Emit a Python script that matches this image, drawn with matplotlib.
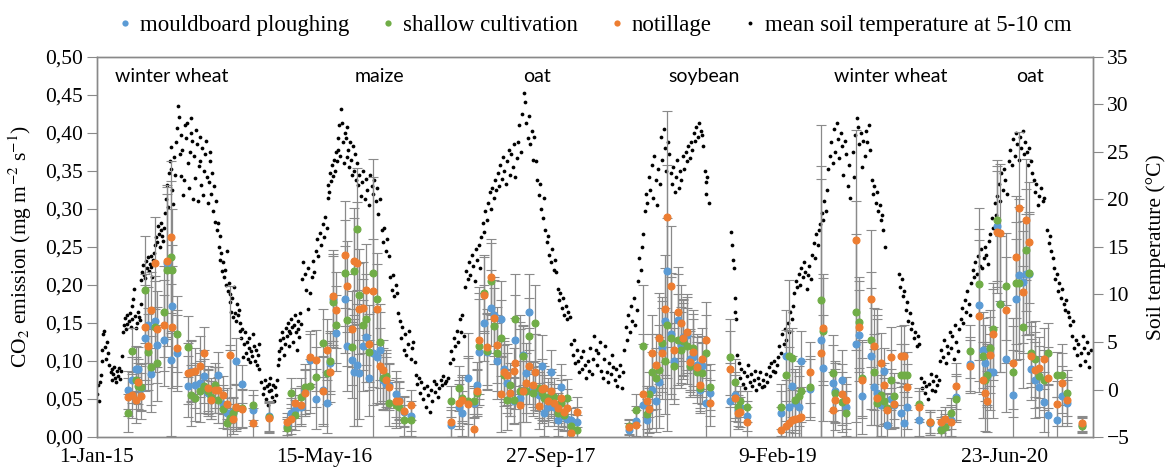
import matplotlib
matplotlib.use("Agg")
import matplotlib.pyplot as plt
from matplotlib.lines import Line2D
from matplotlib.ticker import FuncFormatter, MultipleLocator

plt.rcParams['font.family'] = ['Liberation Serif', 'DejaVu Serif']
plt.rcParams['mathtext.fontset'] = 'stix'

# x values are days since 1-Jan-2015
tick_days = [0, 500, 1000, 1500, 2000]
tick_labels = ['1-Jan-15', '15-May-16', '27-Sep-17', '9-Feb-19', '23-Jun-20']

crops = ['winter wheat', 'maize', 'oat', 'soybean', 'winter wheat', 'oat']

# mean soil temperature at 5-10 cm, (day, degC)
temp_2015 = [(0,-0.5),(2,0.5),(4,-1.2),(6,0.8),(8,1.5),(10,3.0),(12,4.2),(14,5.8),(16,6.2),(18,4.5),(20,3.2),(22,5.0),(25,3.8),(27,2.6),(30,1.8),(32,2.2),(34,1.0),(36,1.6),(38,2.4),(40,1.2),(42,0.8),(44,1.9),(46,1.4),(48,2.3),(50,1.1),(52,2.0),(55,3.5),(57,6.0),(59,6.8),(61,7.5),(63,6.4),(65,7.8),(67,6.9),(70,7.2),(72,8.0),(74,6.6),(76,7.4),(78,8.8),(80,9.5),(82,10.6),(84,7.7),(86,6.5),(88,7.0),(90,8.2),(92,7.6),(94,7.3),(96,9.0),(98,11.5),(100,12.4),(102,13.1),(104,12.0),(106,11.7),(108,13.5),(110,12.8),(112,13.9),(114,12.5),(116,13.2),(118,14.0),(120,12.9),(122,11.8),(124,13.6),(126,14.4),(128,15.2),(130,16.0),(132,15.5),(134,17.2),(136,16.4),(138,15.0),(140,16.8),(142,17.5),(144,16.2),(146,15.6),(148,17.0),(150,18.6),(152,20.0),(154,21.5),(156,19.2),(158,22.8),(160,24.0),(162,23.2),(164,25.5),(166,21.0),(168,19.5),(170,24.5),(172,22.6),(174,26.0),(176,27.5),(178,29.8),(180,28.7),(182,24.8),(184,22.5),(186,26.8),(188,25.2),(190,20.5),(192,22.0),(194,27.8),(196,26.5),(198,28.0),(200,23.8),(202,21.2),(204,25.0),(206,27.0),(208,28.6),(210,26.2),(212,20.0),(214,24.6),(216,22.3),(218,27.3),(220,25.8),(222,19.8),(224,23.5),(226,26.6),(228,24.0),(230,21.5),(232,25.4),(234,20.5),
             (236,23.0),(238,24.8),(240,26.2),(242,22.4),(244,19.6),(246,21.8),(248,25.0),(250,24.0),(252,20.6),(254,22.8),(256,18.8),(258,21.4),(260,17.6),(262,19.8),(264,16.8),(266,17.5),(268,15.0),(270,16.2),(272,13.6),(274,14.4),(276,12.5),(278,13.4),(280,11.8),(282,12.6),(284,11.0),(286,14.6),(288,10.4),(290,11.2),(292,9.2),(294,10.0),(296,8.2),(298,9.6),(300,7.6),(302,10.8),(304,8.0),(306,7.2),(308,9.0),(310,7.8),(312,8.4),(314,7.0),(316,6.2),(318,5.4),(320,6.4),(322,3.4),(324,4.8),(326,6.0),(328,3.8),(330,5.0),(332,3.2),(334,4.4),(336,5.4),(338,2.9),(340,4.1),(342,3.5),(344,5.8),(346,4.6),(348,3.0),(350,4.2),(352,2.6),(354,3.6),(356,4.8),(358,2.2)]
temp_2016 = [(362,0.8),(365,-0.5),(368,0.2),(370,1.0),(372,-1.0),(374,0.4),(376,-1.6),(378,0.6),(380,-0.2),(382,1.2),(384,0.0),(386,-0.8),(388,0.5),(390,-1.2),(392,0.3),(394,-0.6),(396,1.0),(398,2.6),(400,4.0),(402,3.2),(404,5.2),(406,4.4),(408,6.0),(410,5.4),(412,3.6),(414,4.8),(416,6.5),(418,5.6),(420,7.0),(422,6.2),(424,4.6),(426,5.9),(428,7.4),(430,6.6),(432,5.0),(434,6.8),(436,7.8),(438,6.0),(440,4.2),(442,7.2),(444,6.4),(446,5.5),(448,8.0),(450,6.9),(452,11.6),(455,13.4),(458,12.2),(461,10.5),(464,12.8),(466,8.5),(470,10.2),(473,11.8),(476,13.5),(479,12.4),(482,14.6),(485,15.8),(488,14.0),(491,16.5),(494,15.2),(497,17.4),(500,16.0),(503,18.2),(506,17.0),(508,20.2),(510,21.5),(512,20.8),(514,22.8),(516,21.9),(518,23.6),(520,22.5),(522,24.2),(524,23.0),(526,25.0),(528,24.0),(530,26.5),(532,25.2),(534,27.8),(536,24.6),(538,29.5),(540,28.0),(542,26.0),(544,23.8),(546,27.0),(548,26.5),(550,24.5),(552,27.6),(554,25.2),(556,23.4),(558,26.0),(560,24.2),(562,22.6),(564,25.6),(566,23.0),(568,24.8),(570,22.0),(572,23.8),(575,21.5),(578,22.6),(581,20.4),(584,21.8),(587,23.0),(590,20.0),(593,22.2),(596,21.0),(599,19.4),(602,22.6),(605,21.4),(608,20.6),(611,22.0),(614,19.8),(617,21.2),(620,18.5),(623,20.0),(627,16.8),(630,15.5),(633,17.0),(636,14.6),(640,15.8),(643,14.0),(646,11.8),(649,10.5),(652,12.0),(655,9.8),(658,11.0),(661,10.2),(664,8.0),(667,7.2),(670,5.4),(673,6.6),(676,4.2),(679,5.8),(682,3.6),(685,4.8),(688,6.2),(691,3.2),(694,4.4),(697,5.0),(700,2.9),(703,1.5),(706,0.6),(709,1.2),(712,-0.4),(715,0.8),(718,-1.0),(721,0.2),(724,-1.8),(727,0.4),(730,-0.6)]
temp_2017 = [(733,-2.4),(736,0.0),(739,-1.2),(742,0.9),(745,-0.3),(748,0.6),(751,-0.8),(754,0.2),(757,1.0),(760,0.5),(763,1.4),(766,0.7),(770,0.9),(774,1.2),(778,2.8),(781,4.0),(784,3.2),(787,5.4),(790,4.6),(793,6.2),(796,5.0),(799,7.4),(802,6.0),(805,7.8),(808,5.6),(811,10.8),(814,12.5),(817,11.6),(820,13.4),(823,12.0),(826,14.2),(829,13.0),(832,11.4),(835,14.8),(838,13.6),(841,15.2),(844,12.8),(847,16.0),(850,17.5),(853,16.6),(856,18.8),(859,17.8),(862,19.6),(865,20.8),(868,19.0),(871,21.2),(874,20.2),(877,22.0),(880,21.0),(883,22.8),(886,21.4),(889,23.6),(892,22.2),(895,24.5),(898,23.0),(901,21.6),(904,24.0),(907,25.2),(910,22.6),(913,24.8),(916,23.4),(919,25.8),(922,22.4),(925,24.4),(928,26.0),(931,27.8),(934,25.0),(937,29.0),(940,31.2),(943,30.2),(946,28.0),(949,26.5),(952,28.8),(955,25.8),(958,27.2),(961,24.2),(964,26.6),(967,24.0),(970,22.0),(973,20.5),(976,21.6),(979,19.0),(982,18.0),(985,20.2),(988,16.8),(991,15.5),(994,16.2),(997,14.2),(1000,13.4),(1003,14.8),(1006,12.6),(1009,13.6),(1012,12.4),(1015,10.6),(1018,9.4),(1021,10.2),(1024,8.6),(1027,9.6),(1030,7.8),(1033,8.8),(1036,7.4),(1039,8.2),(1042,7.6),(1045,4.8),(1048,3.6),(1051,5.2),(1054,2.8),(1057,4.2),(1060,3.0),(1063,1.8),(1066,3.4),(1069,2.2),(1072,4.0),(1075,2.6),(1078,1.2),(1081,3.0),(1084,2.0),(1087,4.4),(1090,1.6),(1093,3.2)]
temp_2018 = [(1096,5.6),(1099,4.2),(1102,2.6),(1105,3.8),(1108,5.0),(1111,2.0),(1114,1.2),(1117,3.2),(1120,4.6),(1123,1.8),(1126,0.8),(1129,2.8),(1132,1.6),(1135,3.6),(1138,2.4),(1141,1.0),(1144,2.2),(1147,0.4),(1150,1.4),(1153,2.6),(1156,0.2),(1159,1.8),(1162,4.2),(1165,6.6),(1168,5.2),(1171,7.8),(1174,6.0),(1177,8.8),(1180,7.2),(1183,9.6),(1186,6.8),(1189,8.4),(1192,11.4),(1195,13.8),(1198,12.6),(1201,15.0),(1204,16.4),(1207,18.8),(1210,20.6),(1213,19.6),(1216,22.4),(1219,21.0),(1222,23.6),(1225,20.2),(1228,24.6),(1231,22.0),(1234,19.4),(1237,23.2),(1240,21.6),(1243,26.6),(1246,24.2),(1249,27.4),(1252,25.4),(1255,23.0),(1258,26.0),(1261,24.8),(1264,22.8),(1267,21.6),(1270,23.4),(1273,20.8),(1276,22.4),(1279,24.2),(1282,21.2),(1285,23.0),(1288,22.0),(1291,24.6),(1294,23.2),(1297,25.0),(1300,24.0),(1303,25.6),(1306,24.4),(1309,26.0),(1312,25.2),(1315,27.0),(1318,26.2),(1321,27.6),(1324,26.6),(1327,28.0),(1330,27.2),(1333,26.8),(1336,25.6),(1339,23.0),(1341,21.8),(1343,20.6),(1345,22.4),(1348,19.6),(1397,16.6),(1399,15.2),(1401,13.6),(1403,12.8),(1405,9.6),(1407,8.2),(1409,7.4),(1411,3.6),(1414,2.8),(1417,1.2),(1420,2.2),(1423,0.6),(1426,1.8),(1429,0.2),(1432,1.4),(1435,2.6),(1438,0.8),(1441,1.6),(1444,0.4),(1447,1.0),(1450,2.0),(1453,0.0),(1456,1.2),(1459,0.6),(1462,1.8)]
temp_2019 = [(1465,0.3),(1468,1.0),(1471,0.4),(1474,1.6),(1477,0.8),(1480,2.4),(1483,1.4),(1486,2.8),(1489,2.0),(1492,3.0),(1495,1.8),(1498,2.6),(1501,3.4),(1504,4.6),(1507,3.8),(1510,5.8),(1513,4.8),(1516,6.4),(1519,5.2),(1522,7.0),(1525,6.0),(1528,8.2),(1531,7.4),(1534,8.8),(1537,10.2),(1540,11.4),(1543,10.8),(1546,12.2),(1549,11.0),(1552,12.8),(1555,11.8),(1558,13.4),(1561,12.4),(1564,10.6),(1567,12.0),(1570,13.0),(1573,11.6),(1576,14.2),(1579,15.4),(1582,13.8),(1585,16.4),(1588,15.2),(1591,16.8),(1594,17.4),(1597,18.6),(1600,17.8),(1603,19.8),(1606,18.8),(1609,21.0),(1612,23.2),(1615,24.6),(1618,26.0),(1621,23.8),(1624,27.4),(1627,25.0),(1630,28.0),(1633,26.4),(1636,24.4),(1639,27.0),(1642,25.6),(1645,22.6),(1648,26.2),(1651,24.8),(1654,21.4),(1657,23.6),(1660,20.2),(1665,25.0),(1668,22.4),(1671,26.8),(1674,28.6),(1677,27.6),(1680,25.8),(1683,27.0),(1686,23.4),(1689,26.2),(1692,24.6),(1695,27.2),(1698,26.0),(1701,27.8),(1704,25.2),(1707,22.0),(1710,20.6),(1713,21.4),(1716,19.6),(1719,20.8),(1722,18.8),(1725,19.4),(1728,17.8),(1731,18.4),(1733,16.8),(1736,15.0),(1767,12.2),(1770,10.8),(1773,11.6),(1776,9.8),(1779,10.4),(1782,8.4),(1785,9.2),(1788,7.2),(1791,8.0),(1794,6.4),(1797,7.0),(1800,5.4),(1803,6.0),(1806,4.6),(1809,5.6),(1812,4.8),(1816,1.2),(1819,0.2),(1822,0.8),(1825,-0.4),(1828,0.4)]
temp_2020 = [(1831,-1.0),(1834,0.6),(1837,1.6),(1840,0.0),(1843,0.9),(1846,-0.2),(1849,1.4),(1852,0.5),(1855,1.0),(1858,3.0),(1861,4.2),(1864,3.4),(1867,5.2),(1870,2.8),(1873,4.6),(1876,3.8),(1879,6.0),(1882,4.4),(1885,5.6),(1888,3.2),(1891,6.8),(1894,5.0),(1897,4.0),(1900,6.4),(1903,7.4),(1906,8.6),(1909,7.0),(1912,9.4),(1915,8.2),(1918,10.4),(1921,9.0),(1924,7.8),(1927,11.2),(1930,12.6),(1933,11.8),(1936,13.4),(1939,12.2),(1942,14.0),(1945,13.0),(1948,14.8),(1951,12.8),(1954,13.8),(1957,15.0),(1960,14.2),(1963,13.2),(1966,15.6),(1969,16.4),(1972,18.0),(1975,17.0),(1978,19.6),(1981,18.4),(1984,20.4),(1987,21.6),(1990,19.8),(1993,22.8),(1996,21.0),(1999,23.2),(2002,22.0),(2006,20.6),(2010,24.0),(2013,25.2),(2016,23.6),(2019,26.4),(2022,24.6),(2025,27.0),(2028,25.8),(2031,24.2),(2034,26.6),(2037,25.4),(2040,27.2),(2043,24.8),(2046,26.0),(2049,25.0),(2052,23.6),(2055,25.4),(2058,24.0),(2061,22.8),(2064,22.0),(2067,20.8),(2070,21.6),(2073,19.4),(2076,20.4),(2080,21.2),(2084,19.8),(2088,20.2),(2094,16.8),(2097,15.4),(2100,16.2),(2103,14.6),(2106,13.8),(2109,12.8),(2112,11.6),(2115,12.2),(2118,10.4),(2121,11.2),(2124,9.6),(2127,10.6),(2130,9.0),(2133,8.4),(2136,9.4),(2139,8.2),(2142,7.6),(2145,6.8),(2148,5.6),(2151,7.2),(2154,4.4),(2157,5.2),(2160,3.6),(2163,4.8),(2166,2.6),(2169,3.8),(2172,5.6),(2175,4.4),(2178,3.0),(2181,5.0),(2184,3.8),(2187,2.4),(2190,4.2)]

# CO2 emission sampling dates (days since 1-Jan-2015)
sample_day = [69, 78, 85, 91, 98, 106, 113, 120, 128, 133,
              148, 154, 163, 166, 177, 201, 208, 216, 227, 236,
              245, 252, 260, 267, 278, 287, 294, 300, 307, 320,
              344, 378, 419, 428, 436, 450, 458, 469, 483, 498,
              507, 513, 520, 527, 546, 552, 561, 566, 572, 577,
              586, 593, 599, 608, 617, 624, 630, 637, 643, 659,
              665, 677, 692, 781, 798, 805, 818, 831, 838, 841,
              852, 859, 868, 875, 882, 890, 896, 904, 911, 918,
              922, 933, 938, 946, 951, 960, 965, 975, 980, 986,
              994, 1001, 1008, 1015, 1022, 1030, 1036, 1045, 1058, 1173,
              1188, 1204, 1212, 1217, 1224, 1232, 1238, 1245, 1251, 1257,
              1264, 1272, 1280, 1287, 1292, 1300, 1307, 1314, 1323, 1328,
              1334, 1342, 1350, 1396, 1405, 1413, 1418, 1433, 1507, 1518,
              1525, 1532, 1539, 1547, 1552, 1572, 1595, 1601, 1621, 1627,
              1642, 1650, 1672, 1679, 1686, 1705, 1712, 1719, 1727, 1734,
              1740, 1749, 1756, 1771, 1778, 1784, 1811, 1835, 1861, 1868,
              1881, 1894, 1923, 1943, 1952, 1957, 1961, 1968, 1975, 1984,
              1990, 2003, 2018, 2026, 2032, 2040, 2048, 2053, 2059, 2067,
              2075, 2086, 2095, 2115, 2126, 2137, 2171]

co2_mouldboard = [.062, .075, .090, .089, .064, .130, .147, .083, .152, .121,
                  .127, .229, .101, .172, .111, .067, .087, .068, .071, .080,
                  .058, .049, .062, .082, .044, .031, .031, .033, .100, .070,
                  .035, .028, .015, .031, .035, .040, .060, .101, .050, .062,
                  .045, .097, .181, .137, .181, .120, .101, .085, .095, .084,
                  .120, .132, .078, .110, .105, .115, .075, .070, .068, .057,
                  .049, .033, .028, .016, .040, .031, .077, .045, .069, .112,
                  .150, .112, .170, .160, .100, .155, .090, .071, .058, .047,
                  .127, .051, .108, .084, .164, .062, .085, .055, .094, .031,
                  .040, .085, .040, .022, .066, .028, .024, .023, .020, .009,
                  .021, .042, .022, .035, .062, .047, .072, .119, .152, .218,
                  .136, .100, .154, .121, .131, .134, .102, .105, .095, .062,
                  .093, .045, .058, .048, .055, .035, .040, .028, .031, .107,
                  .040, .067, .045, .040, .100, .063, .127, .091, .071, .060,
                  .075, .040, .122, .134, .054, .106, .066, .058, .042, .087,
                  .016, .050, .042, .031, .019, .040, .022, .018, .011, .015,
                  .022, .053, .096, .174, .115, .097, .080, .085, .085, .277,
                  .175, .103, .055, .181, .213, .204, .214, .214, .089, .075,
                  .066, .046, .029, .022, .054, .045, .016]

co2_shallow = [.031, .113, .075, .067, .066, .194, .112, .092, .145, .097,
               .165, .220, .237, .220, .136, .119, .055, .051, .060, .067,
               .060, .053, .068, .049, .037, .018, .025, .031, .038, .038,
               .042, .026, .012, .058, .029, .053, .066, .067, .079, .124,
               .084, .100, .178, .148, .216, .154, .119, .218, .274, .187,
               .148, .155, .112, .216, .182, .125, .077, .080, .045, .042,
               .040, .022, .022, .047, .064, .051, .047, .047, .058, .120,
               .189, .113, .205, .146, .111, .130, .081, .049, .068, .049,
               .155, .060, .106, .060, .133, .058, .150, .064, .058, .051,
               .053, .055, .053, .031, .045, .029, .051, .015, .009, .014,
               .036, .120, .030, .056, .086, .077, .088, .124, .100, .148,
               .130, .093, .128, .115, .126, .120, .093, .117, .085, .064,
               .084, .111, .066, .105, .073, .040, .047, .040, .040, .081,
               .106, .104, .049, .054, .060, .066, .180, .139, .084, .058,
               .046, .031, .165, .151, .078, .127, .086, .045, .055, .047,
               .038, .075, .054, .082, .082, .082, .044, .020, .009, .013,
               .031, .050, .113, .201, .106, .075, .082, .117, .142, .285,
               .175, .198, .086, .203, .203, .145, .246, .216, .111, .103,
               .080, .075, .110, .082, .082, .058, .015]

co2_notillage = [.053, .055, .049, .073, .054, .145, .120, .167, .229, .142,
                 .147, .232, .263, .145, .117, .084, .086, .087, .093, .110,
                 .064, .049, .062, .062, .055, .044, .108, .024, .040, .037,
                 .018, .025, .020, .024, .045, .042, .058, .105, .101, .060,
                 .115, .086, .186, .167, .240, .198, .142, .231, .229, .169,
                 .170, .194, .123, .192, .168, .093, .088, .075, .066, .048,
                 .047, .034, .042, .020, .045, .049, .044, .010, .060, .127,
                 .187, .119, .210, .157, .121, .057, .086, .082, .058, .087,
                 .097, .042, .060, .071, .093, .069, .086, .041, .063, .064,
                 .047, .060, .045, .038, .051, .033, .038, .005, .033, .013,
                 .016, .056, .047, .037, .110, .095, .130, .110, .169, .289,
                 .198, .115, .164, .150, .130, .138, .099, .112, .092, .068,
                 .103, .127, .045, .090, .051, .031, .033, .020, .009, .015,
                 .018, .022, .024, .025, .026, .085, .110, .144, .036, .049,
                 .056, .049, .259, .145, .075, .182, .120, .051, .097, .068,
                 .036, .105, .043, .106, .107, .066, .040, .020, .020, .024,
                 .020, .067, .093, .159, .075, .058, .047, .108, .135, .270,
                 .269, .167, .097, .237, .301, .191, .286, .256, .106, .088,
                 .091, .103, .078, .044, .071, .049, .018]

# standard deviation per sampling date
co2_sd = [.025, .03, .03, .03, .03, .07, .05, .05, .06, .05,
          .06, .1, .1, .08, .05, .04, .04, .03, .04, .035,
          .03, .025, .03, .03, .025, .02, .09, .02, .03, .025,
          .02, .02, .012, .02, .02, .025, .03, .035, .04, .045,
          .04, .04, .06, .05, .07, .06, .05, .07, .08, .06,
          .06, .06, .05, .15, .06, .05, .04, .035, .03, .03,
          .025, .02, .02, .02, .03, .03, .06, .02, .03, .07,
          .05, .05, .05, .05, .05, .05, .04, .04, .03, .03,
          .06, .1, .04, .04, .05, .03, .05, .03, .04, .03,
          .025, .03, .025, .02, .03, .02, .025, .015, .02, .01,
          .02, .08, .02, .03, .05, .04, .06, .06, .07, .14,
          .08, .05, .06, .05, .05, .05, .04, .05, .04, .03,
          .04, .05, .03, .05, .03, .02, .02, .02, .03, .06,
          .1, .04, .04, .04, .04, .04, .23, .07, .05, .04,
          .04, .03, .145, .06, .05, .09, .05, .11, .04, .03,
          .02, .04, .03, .04, .04, .03, .02, .015, .015, .015,
          .02, .03, .035, .1, .05, .05, .04, .05, .06, .08,
          .09, .07, .06, .08, .1, .08, .08, .08, .04, .05,
          .04, .04, .04, .03, .04, .03, .01]

series = [('mouldboard ploughing', co2_mouldboard, '#5B9BD5'),
          ('shallow cultivation', co2_shallow, '#70AD47'),
          ('notillage', co2_notillage, '#ED7D31')]

temps = temp_2015 + temp_2016 + temp_2017 + temp_2018 + temp_2019 + temp_2020
t_day = [p[0] for p in temps]
t_val = [p[1] for p in temps]

grey = '#898989'
fig = plt.figure(figsize=(11.69, 4.74), dpi=100)
ax = fig.add_axes([0.083, 0.078, 0.852, 0.802])
ax2 = ax.twinx()
ax.set_zorder(ax2.get_zorder() + 1)
ax.patch.set_visible(False)

ax2.plot(t_day, t_val, 'o', color='black', ms=2.7, mew=0)

for name, vals, col in series:
    ax.errorbar(sample_day, vals, yerr=co2_sd, fmt='o', ms=5.0, color=col,
                markeredgecolor=col, markeredgewidth=0.8,
                ecolor='#8a8a8a', elinewidth=0.9, capsize=3.5, capthick=0.9)

ax.set_xlim(0, 2195)
ax.set_ylim(0, 0.5)
ax2.set_ylim(-5, 35)
ax.yaxis.set_major_locator(MultipleLocator(0.05))
ax2.yaxis.set_major_locator(MultipleLocator(5))
ax.yaxis.set_major_formatter(FuncFormatter(lambda v, p: f"{v:.2f}".replace('.', ',')))
ax.set_xticks(tick_days)
ax.set_xticklabels(tick_labels)

for a in (ax, ax2):
    for s in a.spines.values():
        s.set_color(grey)
        s.set_linewidth(1)
ax.tick_params(axis='y', direction='out', length=7, color=grey, labelsize=15.5, pad=3)
ax2.tick_params(axis='y', direction='out', length=7, color=grey, labelsize=15.5, pad=3)
ax.tick_params(axis='x', length=0, labelsize=15.5, pad=8)

ax.set_ylabel('CO$_2$ emission (mg m$^{-2}$ s$^{-1}$)', fontsize=15.5, labelpad=8)
ax2.set_ylabel('Soil temperature (°C)', fontsize=15.5, labelpad=12)

crop_x = [165, 623, 970, 1338, 1749, 2057]
for cx, name in zip(crop_x, crops):
    ax.text(cx, 0.474, name, ha='center', va='center', fontsize=14, family='Lato')

handles = [Line2D([], [], ls='', marker='o', ms=4.5, color=c, mew=0) for _, _, c in series]
handles.append(Line2D([], [], ls='', marker='o', ms=2.8, color='black', mew=0))
labels = [s[0] for s in series] + ['mean soil temperature at 5-10 cm']
fig.legend(handles, labels, loc='upper center', bbox_to_anchor=(0.506, 1.012), ncol=4,
           frameon=False, fontsize=16.5, handletextpad=0.05, columnspacing=1.1, handlelength=1.2)

fig.savefig('out.png', dpi=100)
